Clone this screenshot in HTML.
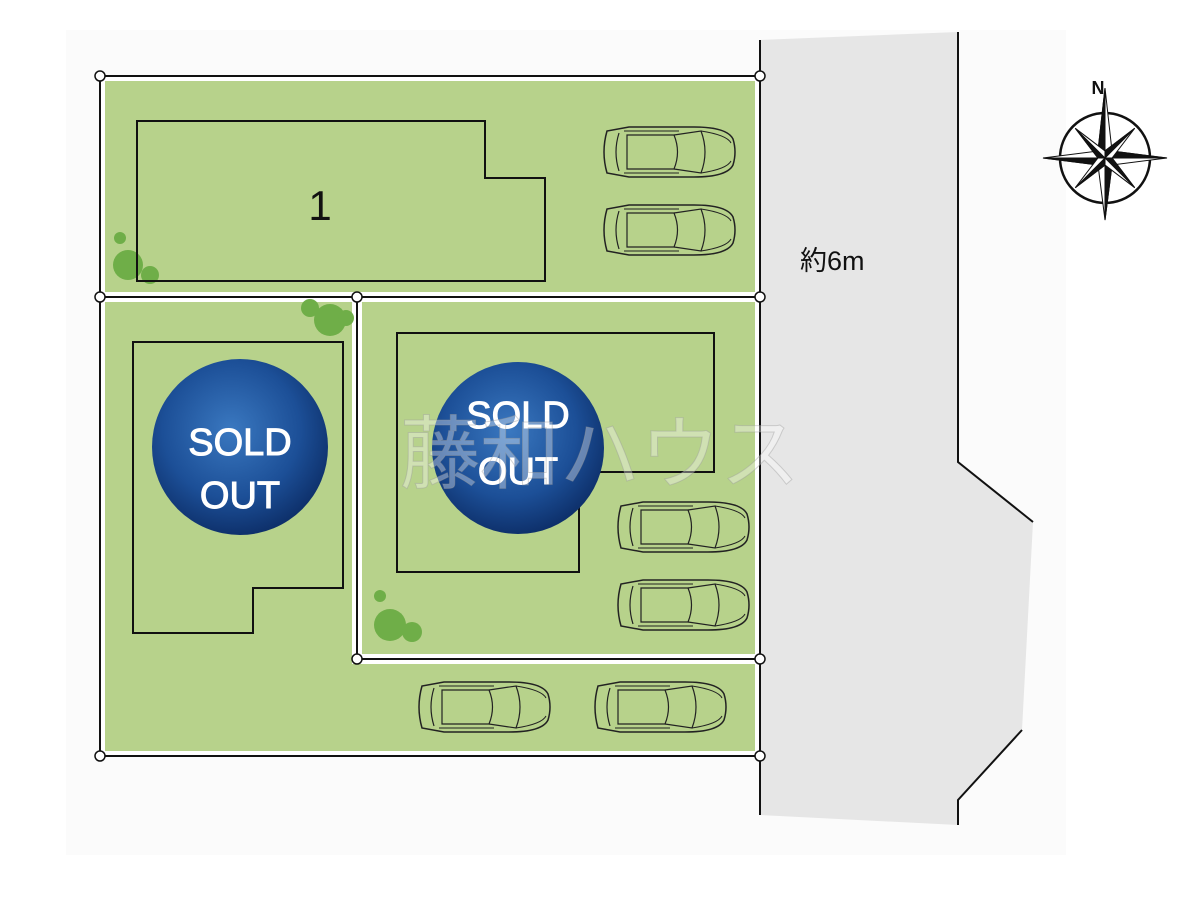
<!DOCTYPE html>
<html><head><meta charset="utf-8"><style>
html,body{margin:0;padding:0;background:#fff;}
svg{display:block;}
</style></head><body>
<svg width="1200" height="900" viewBox="0 0 1200 900" xmlns="http://www.w3.org/2000/svg">
<defs>
<radialGradient id="so" cx="45%" cy="40%" r="65%">
<stop offset="0" stop-color="#3a78c0"/><stop offset="0.6" stop-color="#1c4f97"/><stop offset="1" stop-color="#0b2a62"/>
</radialGradient>
<g id="car">
<path d="M8,6 Q2,27 8,48 L30,52 L95,52 Q128,52 134,40 Q138,27 134,14 Q128,2 95,2 L30,2 Z" fill="none" stroke="#222" stroke-width="1.5"/>
<path d="M20,8 Q14,27 20,46" fill="none" stroke="#222" stroke-width="1.2"/>
<path d="M28,10 L75,10 Q82,27 75,44 L28,44 Z" fill="none" stroke="#222" stroke-width="1.2"/>
<path d="M75,10 L102,6 Q110,27 102,48 L75,44" fill="none" stroke="#222" stroke-width="1.2"/>
<path d="M102,6 Q128,10 132,18 M102,48 Q128,44 132,36" fill="none" stroke="#222" stroke-width="1"/>
<path d="M25,6 L80,6 M25,48 L80,48" stroke="#222" stroke-width="1"/>
</g>
</defs>
<rect width="1200" height="900" fill="#fff"/>
<rect x="66" y="30" width="1000" height="825" fill="#fbfbfb"/>
<polygon points="760,40 958,32 958,462 1033,522 1022,730 958,800 958,825 760,815" fill="#e6e6e6"/>
<path d="M760,40 V815" stroke="#111" stroke-width="2"/>
<path d="M958,32 V462 L1033,522" stroke="#111" stroke-width="2" fill="none"/>
<path d="M1022,730 L958,800 V825" stroke="#111" stroke-width="2" fill="none"/>
<text x="800" y="270" font-family="Liberation Sans,'Noto Sans CJK JP',sans-serif" font-size="27" fill="#111">約6m</text>
<rect x="100" y="76" width="660" height="680" fill="#fff"/>
<rect x="105" y="81" width="650" height="211" fill="#b7d28b"/>
<rect x="105" y="302" width="247" height="449" fill="#b7d28b"/>
<rect x="352" y="664" width="403" height="87" fill="#b7d28b"/>
<rect x="362" y="302" width="393" height="352" fill="#b7d28b"/>
<g fill="none" stroke="#111" stroke-width="2">
<rect x="100" y="76" width="660" height="680"/>
<path d="M100,297 H760 M357,297 V659 H760"/>
</g>
<g fill="#fff" stroke="#111" stroke-width="1.5">
<circle cx="100" cy="76" r="5"/><circle cx="760" cy="76" r="5"/>
<circle cx="100" cy="297" r="5"/><circle cx="357" cy="297" r="5"/><circle cx="760" cy="297" r="5"/>
<circle cx="357" cy="659" r="5"/><circle cx="760" cy="659" r="5"/>
<circle cx="100" cy="756" r="5"/><circle cx="760" cy="756" r="5"/>
</g>
<g fill="#6fae48">
<circle cx="120" cy="238" r="6"/><circle cx="128" cy="265" r="15"/><circle cx="150" cy="275" r="9"/>
<circle cx="310" cy="308" r="9"/><circle cx="330" cy="320" r="16"/><circle cx="346" cy="318" r="8"/>
<circle cx="380" cy="596" r="6"/><circle cx="390" cy="625" r="16"/><circle cx="412" cy="632" r="10"/>
</g>
<g fill="none" stroke="#111" stroke-width="2">
<polygon points="137,121 485,121 485,178 545,178 545,281 137,281"/>
<polygon points="133,342 343,342 343,588 253,588 253,633 133,633"/>
<polygon points="397,333 714,333 714,472 579,472 579,572 397,572"/>
</g>
<text x="320" y="220" font-family="Liberation Sans,sans-serif" font-size="42" text-anchor="middle" fill="#111">1</text>
<use href="#car" x="599" y="125"/>
<use href="#car" x="599" y="203"/>
<use href="#car" x="613" y="500"/>
<use href="#car" x="613" y="578"/>
<use href="#car" x="414" y="680"/>
<use href="#car" x="590" y="680"/>
<circle cx="240" cy="447" r="88" fill="url(#so)"/>
<g font-family="Liberation Sans,sans-serif" font-size="38" fill="#fff" stroke="#fff" stroke-width="1" text-anchor="middle">
<text x="240" y="455">SOLD</text>
<text x="240" y="508">OUT</text>
</g>
<circle cx="518" cy="448" r="86" fill="url(#so)"/>
<g font-family="Liberation Sans,sans-serif" font-size="38" fill="#fff" stroke="#fff" stroke-width="1" text-anchor="middle">
<text x="518" y="428">SOLD</text>
<text x="518" y="484">OUT</text>
</g>
<text x="600" y="482" font-family="'Noto Sans CJK JP',sans-serif" font-size="80" fill="#ffffff" fill-opacity="0.35" stroke="#999" stroke-opacity="0.4" stroke-width="1" text-anchor="middle">藤和ハウス</text>
<g transform="translate(1105,158)">
<circle r="45" fill="none" stroke="#111" stroke-width="2.5"/>
<g fill="#111" stroke="#111" stroke-width="1">
<polygon points="0,-70 7,-7 0,0 -7,-7" fill="#fff"/>
<polygon points="0,-70 -7,-7 0,0"/>
<polygon points="0,62 -7,7 0,0 7,7" fill="#fff"/>
<polygon points="0,62 7,7 0,0"/>
<polygon points="62,0 7,7 0,0 7,-7" fill="#fff"/>
<polygon points="62,0 7,-7 0,0"/>
<polygon points="-62,0 -7,-7 0,0 -7,7" fill="#fff"/>
<polygon points="-62,0 -7,7 0,0"/>
<g transform="rotate(45)">
<polygon points="0,-42 5,-5 0,0 -5,-5" fill="#fff"/><polygon points="0,-42 -5,-5 0,0"/>
<polygon points="0,42 -5,5 0,0 5,5" fill="#fff"/><polygon points="0,42 5,5 0,0"/>
<polygon points="42,0 5,5 0,0 5,-5" fill="#fff"/><polygon points="42,0 5,-5 0,0"/>
<polygon points="-42,0 -5,-5 0,0 -5,5" fill="#fff"/><polygon points="-42,0 -5,5 0,0"/>
</g>
</g>
<text x="-7" y="-64" font-family="Liberation Sans,sans-serif" font-size="18" font-weight="bold" fill="#111" text-anchor="middle">N</text>
</g>
</svg>
</body></html>
